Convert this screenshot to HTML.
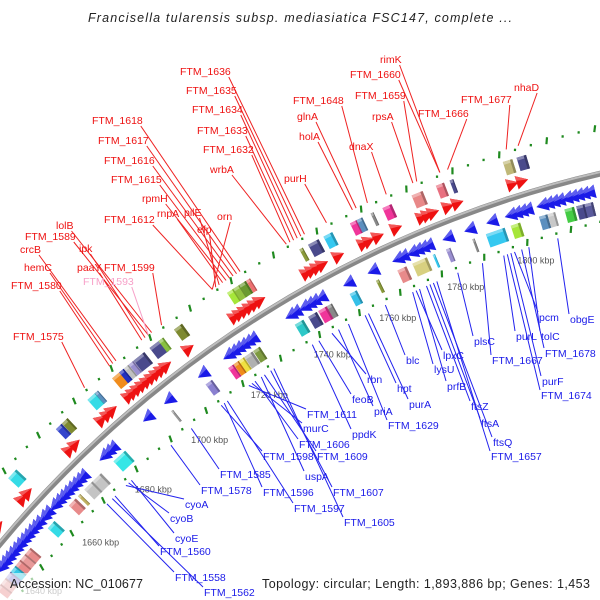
<!DOCTYPE html>
<html><head><meta charset="utf-8"><style>
html,body{margin:0;padding:0;background:#fff;width:600px;height:600px;overflow:hidden}
svg{display:block}
text{font-family:"Liberation Sans","DejaVu Sans",sans-serif}
</style></head><body>
<svg id="chart" width="600" height="600" viewBox="0 0 600 600" xmlns="http://www.w3.org/2000/svg">
<rect width="600" height="600" fill="#fff"/>
<text x="300" y="22" text-anchor="middle" font-style="italic" font-size="12.5" fill="#222" textLength="424" lengthAdjust="spacing">Francisella tularensis subsp. mediasiatica FSC147, complete ...</text>
<g id="rings"></g>
<g id="genes"></g>
<g id="labels"></g>
<rect x="0" y="573" width="150" height="27" fill="#fff" opacity="0.6"/>
<text x="25" y="594" font-size="9" fill="#ccc">1640 kbp</text>
<text x="10" y="588" font-size="12.5" fill="#222" textLength="133" lengthAdjust="spacing">Accession: NC_010677</text>
<text x="262" y="588" font-size="12.5" fill="#222" textLength="328" lengthAdjust="spacing">Topology: circular; Length: 1,893,886 bp; Genes: 1,453</text>
</svg>
<script>
// ---- data ----
const tickKbp = [1660, 1680, 1700, 1720, 1740, 1760, 1780, 1800];
const tickText = ["1660 kbp","1680 kbp","1700 kbp","1720 kbp","1740 kbp","1760 kbp","1780 kbp","1800 kbp"];

const outerBlockKbp = [1660.8,1677,1679,1688,1689.5,1696,1697.5,1699,1700.5,1703,1708,1709.8,1715,1730.5,1732.3,1734,1735.6,1750.6,1754,1758,1765,1766.6,1770,1774,1782,1788,1791,1805.5,1809];
const outerBlockLen = [3,2,2,3,1,3,1.5,1.5,1.5,3.5,3.5,1.5,2.5,2,2,2,1.2,1,3,2.5,2,1.6,0.8,2.5,3,2.2,1,2.5,2.5];
const outerBlockColor = ["#35dbe6","#3344cc","#7e8a30","#35dbe6","#5b8fbf","#f08c1c","#2030c0","#c0c0c0","#9a8fd0","#4a4a8c","#4a4a8c","#88c040","#7e8a30","#a6e63a","#90c040","#6a9a30","#ee7070","#8a9a3a","#4a4a8c","#35c8f0","#f0359a","#5b8fbf","#888888","#f0359a","#e88888","#e87080","#4a4a8c","#c0b878","#4a4a8c"];

const redArrowKbp = [1649,1658,1660,1675,1677,1686,1688,1689.5,1695,1696.5,1698,1699.5,1701,1702.5,1704,1705.5,1707,1714,1728,1729.5,1731,1732.5,1734,1735.5,1749,1750.5,1752,1753.5,1758,1765,1766.5,1769,1774,1781,1782.5,1784,1788,1790.5,1805,1807.5];

const blueArrowKbp = [1641,1642.5,1644,1645.5,1647,1648.5,1650,1651.5,1653,1654.5,1656,1658,1659.5,1662,1663.5,1665,1666.5,1668,1669.5,1671,1672.5,1680,1681.5,1683,1695,1702,1713,1721,1722.5,1724,1725.5,1727,1728.5,1740,1741.5,1744,1745.5,1747,1749,1757,1764,1771,1772.5,1775,1776.5,1778,1779.5,1785,1791,1797,1802,1803.5,1805,1806.5,1810.5,1812,1813.5,1815,1817,1818.5,1820,1821.5,1823];

const innerBlockKbp = [1637,1639,1641,1643,1645,1647,1649,1658,1666,1668.5,1672,1675,1683,1701,1713,1720,1721.7,1723.3,1725.5,1728,1741,1745,1748,1750,1757,1764,1771,1776,1780,1784,1791,1797,1802.5,1810,1812.2,1817,1820,1822.2];
const innerBlockLen = [2,2,2,2,2,2,2,2.5,2.5,0.8,3,3,4,0.6,2,1.6,1.6,1.6,2.5,2,2.5,2.5,2.5,1.5,2,0.8,2.5,4,0.6,1.2,0.6,5,2.5,2.2,2,2.5,2.2,2.2];
const innerBlockColor = ["#e88a8a","#e8a0a0","#8a80d0","#35c8e6","#e88a8a","#e89a9a","#e88a8a","#35dbe6","#e88a8a","#c0b060","#c4c4c4","#c4c4c4","#35e6e6","#999999","#8a80d0","#f0359a","#f08c1c","#f0e040","#b0b0b0","#7e9a40","#2ec8c8","#4a4a8c","#f0359a","#888888","#35c0e8","#8a9a3a","#e88a8a","#d8d080","#35c8f0","#9a8fd0","#888888","#35c8f0","#a6e63a","#5b8fbf","#c8c8c8","#44cc44","#4a4a8c","#5a5a9c"];

const redLabelText = ["FTM_1636","FTM_1635","FTM_1634","FTM_1633","FTM_1632","wrbA","FTM_1618","FTM_1617","FTM_1616","FTM_1615","rpmH","rnpA","pilE","efp","orn","FTM_1612","lolB","FTM_1589","crcB","ipk","hemC","paaY","FTM_1599","FTM_1593","FTM_1580","FTM_1575","FTM_1648","glnA","holA","purH","dnaX","rimK","FTM_1660","FTM_1659","rpsA","FTM_1666","FTM_1677","nhaD"];
const redLabelX = [180,186,192,197,203,210,92,98,104,111,142,157,184,197,217,104,56,25,20,79,24,77,104,83,11,13,293,297,299,284,349,380,350,355,372,418,461,514];
const redLabelY = [75,94,113,134,153,173,124,144,164,183,202,217,216,233,220,223,229,240,253,252,271,271,271,285,289,340,104,120,140,182,150,63,78,99,120,117,103,91];
const redLabelKbp = [1753,1752,1751,1750,1749,1748,1735,1734,1733,1732,1731,1730,1729,1728,1727,1727,1709,1708,1698,1707,1697,1706,1712,1708,1696,1688,1770,1767,1766,1759,1775,1789,1789,1783,1782,1791,1806,1809];

const blueLabelText = ["cyoA","cyoB","cyoE","FTM_1560","FTM_1558","FTM_1562","FTM_1578","FTM_1585","FTM_1596","FTM_1597","FTM_1598","FTM_1605","FTM_1607","uspA","FTM_1606","FTM_1609","murC","FTM_1611","ppdK","feoB","priA","rbn","FTM_1629","hpt","purA","blc","lysU","lpxC","prfB","ftsZ","ftsA","ftsQ","FTM_1657","plsC","FTM_1667","purL","tolC","pcm","obgE","FTM_1678","purF","FTM_1674"];
const blueLabelX = [185,170,175,160,175,204,201,220,263,294,263,344,333,305,299,317,303,307,352,352,374,367,388,397,409,406,434,443,447,471,481,493,491,474,492,516,541,539,570,545,542,541];
const blueLabelY = [508,522,542,555,581,596,494,478,496,512,460,526,496,480,448,460,432,418,438,403,415,383,429,392,408,364,373,359,390,410,427,446,460,345,364,340,340,321,323,357,385,399];
const blueLabelKbp = [1679,1680,1681,1675,1672,1674,1695,1702,1713,1714,1712,1729,1728,1725,1723,1726,1722,1721,1741,1743,1749,1747,1752,1757,1758,1763,1771,1772,1773,1775,1776,1777,1778,1784,1791,1797,1804,1800,1812,1802,1799,1798];

// ---- geometry ----
const CX = 850, CY = 1250, RB = 1105;
function ang(k){ return 120.91 - (k - 1740) * 0.2055; }
function pt(k, r){ const t = ang(k) * Math.PI / 180; return [CX + r * Math.cos(t), CY - r * Math.sin(t)]; }
function rot(k){ return 90 - ang(k); }
const NS = "http://www.w3.org/2000/svg";
function mk(tag, attrs, parent){ const e = document.createElementNS(NS, tag); for (const a in attrs) e.setAttribute(a, attrs[a]); parent.appendChild(e); return e; }
function arcPath(r, k0, k1){ const a = pt(k0, r), b = pt(k1, r); return `M${a[0]},${a[1]} A${r},${r} 0 0 1 ${b[0]},${b[1]}`; }
function shade(hex, f){ const n = parseInt(hex.slice(1), 16); let r = n >> 16, g = (n >> 8) & 255, b = n & 255;
  const m = v => Math.max(0, Math.min(255, Math.round(f > 0 ? v + (255 - v) * f : v * (1 + f))));
  return `rgb(${m(r)},${m(g)},${m(b)})`; }
const rings = document.getElementById('rings');
const genes = document.getElementById('genes');
const labels = document.getElementById('labels');

// backbone
const bb = mk('path', {d: arcPath(RB, 1630, 1840), fill: 'none', stroke: '#888', 'stroke-width': 6}, rings);


const bh = mk('path', {d: arcPath(RB + 1.5, 1630, 1840), fill: 'none', stroke: '#bdbdbd', 'stroke-width': 2}, rings);



// dotted rings
[1150, 1058].forEach((r, ri) => {
  let i = 0;
  for (let k = 1632; k <= 1830; k += 4, i++) {
    const p = pt(k, r);
    const long = (i % 3 === 1);
    const d = mk('rect', {x: -1.1, y: long ? -3.5 : -1.2, width: 2.2, height: long ? 7 : 2.4, fill: '#1f8a1f', transform: `translate(${p[0]},${p[1]}) rotate(${rot(k) + 20})`}, rings);
    
    
  }
});

// tick labels
tickKbp.forEach((k, i) => {
  const p = pt(k, 1044);
  const t = mk('text', {x: p[0], y: p[1] + 3, 'font-size': 9, fill: '#555'}, rings);
  t.textContent = tickText[i];
  
  
});

// blocks
function block(k, len, color, r, name){
  const p = pt(k, r); const w = len * 3.96;
  const g = mk('g', {transform: `translate(${p[0]},${p[1]}) rotate(${rot(k)})`}, genes);
  
  
  mk('rect', {x: -w / 2, y: -7, width: w, height: 14, fill: color}, g);
  mk('rect', {x: -w / 2, y: -7, width: w, height: 3, fill: shade(color, 0.35)}, g);
  mk('rect', {x: w / 2 - Math.min(2.5, w * 0.25), y: -7, width: Math.min(2.5, w * 0.25), height: 14, fill: shade(color, -0.25)}, g);
}
outerBlockKbp.forEach((k, i) => block(k, outerBlockLen[i], outerBlockColor[i], 1135, 'outer-gene-block'));
innerBlockKbp.forEach((k, i) => block(k, innerBlockLen[i], innerBlockColor[i], 1072, 'inner-gene-block'));

// arrows
function arrow(k, r, dir, color, name){
  const p = pt(k, r);
  const g = mk('g', {transform: `translate(${p[0]},${p[1]}) rotate(${rot(k)})`}, genes);
  
  
  mk('polygon', {points: dir > 0 ? '-6,-7 6,0 -6,7' : '6,-7 -6,0 6,7', fill: color}, g);
  mk('polygon', {points: dir > 0 ? '-6,-7 6,0 -6,-2' : '6,-7 -6,0 6,-2', fill: shade(color, 0.3)}, g);
}
redArrowKbp.forEach(k => arrow(k, 1118, 1, '#ee1111', 'forward-gene-arrow'));
blueArrowKbp.forEach(k => arrow(k, 1089, -1, '#1a1ae8', 'reverse-gene-arrow'));

// labels
function label(text, x, y, k, color, outer, lineColor){
  const t = mk('text', {x: x, y: y, 'font-size': 10.5, fill: color}, labels);
  t.textContent = text;
  
  
  const w = t.getComputedTextLength ? t.getComputedTextLength() : text.length * 6;
  let a, b;
  if (outer) { a = [x + w - 2, y + 2]; b = pt(k, 1153); }
  else { a = pt(k, 1053); b = [x - 1, y - 9]; }
  const l = mk('line', {x1: a[0], y1: a[1], x2: b[0], y2: b[1], stroke: lineColor, 'stroke-width': 1}, labels);
  
  
}
redLabelText.forEach((s, i) => {
  const pink = s === 'FTM_1593';
  label(s, redLabelX[i], redLabelY[i], redLabelKbp[i], pink ? '#f7a0c8' : '#ee1111', true, pink ? '#f7a0c8' : '#ee2222');
});
blueLabelText.forEach((s, i) => label(s, blueLabelX[i], blueLabelY[i], blueLabelKbp[i], '#1a1ae8', false, '#2222ee'));
</script>
</body></html>
